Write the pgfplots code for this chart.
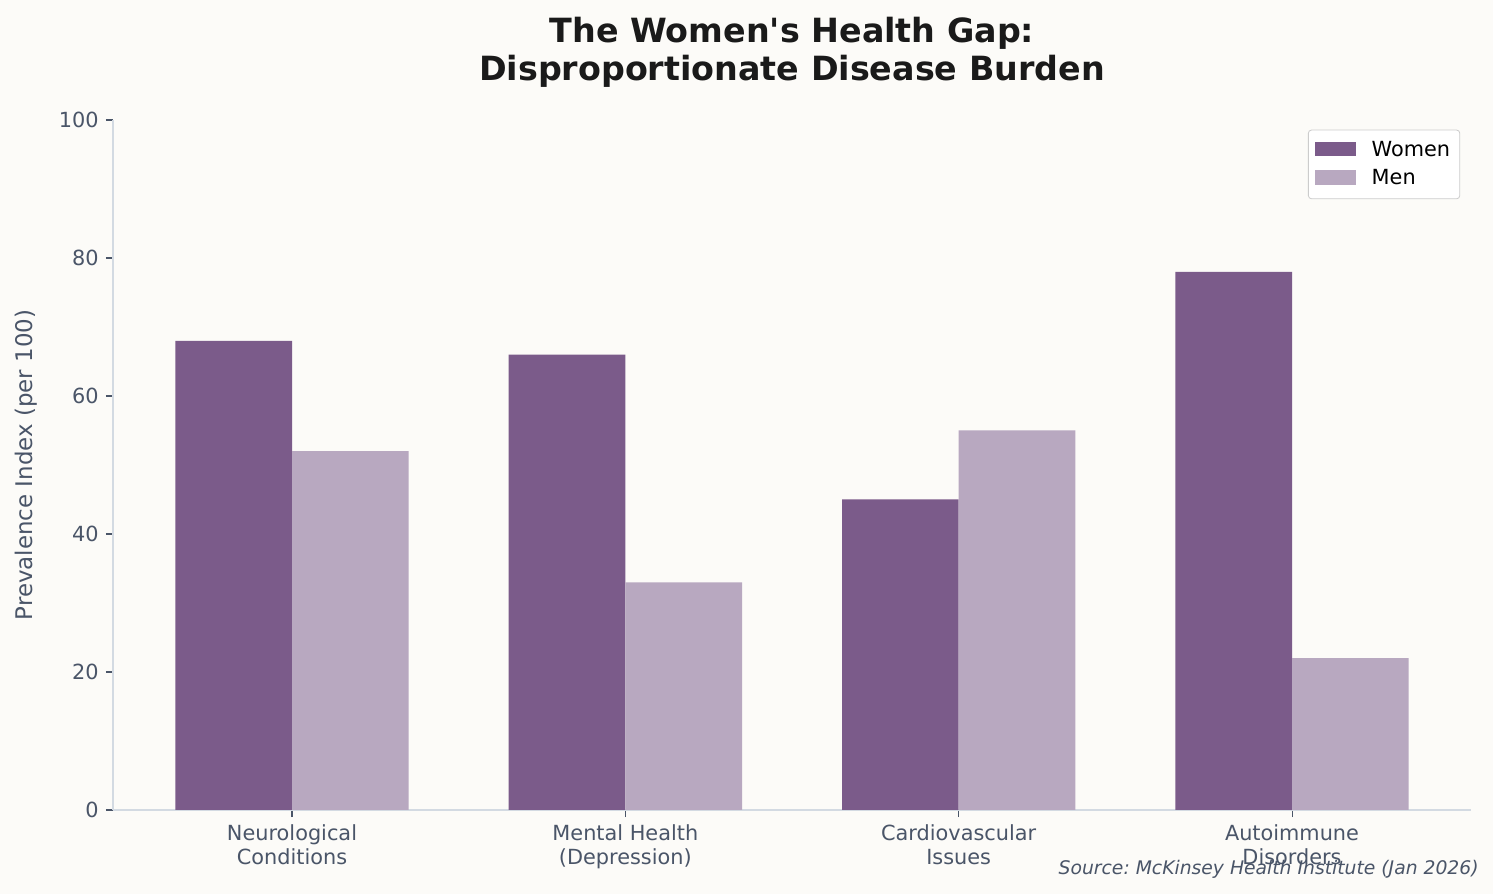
\documentclass[border=0pt]{standalone}
\usepackage{pgfplots}
\pgfplotsset{compat=1.18}
\usepackage{fontspec}
\setmainfont{DejaVu Sans}[Ligatures=TeXOff]

\definecolor{bgcol}{HTML}{FCFBF8}
\definecolor{women}{HTML}{7B5B8A}
\definecolor{men}{HTML}{B8A8C0}
\definecolor{tickcol}{HTML}{4A5568}
\definecolor{spinecol}{HTML}{D3DAE2}
\definecolor{titlecol}{HTML}{1A1A1A}

% 1 px of the reference = 0.48pt
\begin{document}
\frenchspacing
\begin{tikzpicture}[x=0.48pt,y=0.48pt]
\fill[bgcol] (-113,-84) rectangle (1380,810);
\useasboundingbox (-113,-84) rectangle (1380,810);

\begin{axis}[
at={(0,0)}, anchor=south west,
width=651.84pt, height=331.2pt,
scale only axis,
xmin=-0.537, xmax=3.537,
ymin=0, ymax=100,
ytick={0,20,40,60,80,100},
xtick={0,1,2,3},
xticklabels={Neurological\\Conditions, Mental Health\\(Depression), Cardiovascular\\Issues, Autoimmune\\Disorders},
xticklabel style={align=center, font=\fontsize{10}{11.5}\selectfont, text=tickcol},
yticklabel style={font=\fontsize{10}{12}\selectfont, text=tickcol},
/pgf/number format/assume math mode=true,
ylabel={Prevalence Index (per 100)},
ylabel style={font=\fontsize{11}{13}\selectfont, text=tickcol, yshift=3.4pt},
axis lines*=left,
axis line style={spinecol, line width=0.6pt},
tick style={tickcol, line width=0.5pt},
tick align=outside,
major tick length=3.4pt,
ybar=0pt,
bar width=0.35,
title style={font=\fontsize{16}{18.5}\selectfont\bfseries, text=titlecol, align=center, yshift=6pt},
title={The Women's Health Gap:\\Disproportionate Disease Burden},
legend style={at={(0.992,0.986)}, anchor=north east, draw=black!20, rounded corners=1.5pt,
  fill=white, font=\fontsize{10}{12}\selectfont, row sep=1pt, inner xsep=3pt, inner ysep=3.2pt,
  nodes={inner xsep=1.6pt},
  /tikz/every odd column/.append style={column sep=5.8pt}},
legend cell align=left,
legend image code/.code={\fill[#1, sharp corners] (0pt,-3pt) rectangle (20pt,4pt);},
clip=false,
]
\addplot[draw=none, fill=women] coordinates {(0,68) (1,66) (2,45) (3,78)};
\addplot[draw=none, fill=men] coordinates {(0,52) (1,33) (2,55) (3,22)};
\legend{Women, Men}
\node[anchor=east, font=\fontsize{9}{11}\selectfont\itshape, text=tickcol]
  at (rel axis cs:1.0110,-0.0855) {Source: McKinsey Health Institute (Jan 2026)};
\end{axis}
\end{tikzpicture}
\end{document}
